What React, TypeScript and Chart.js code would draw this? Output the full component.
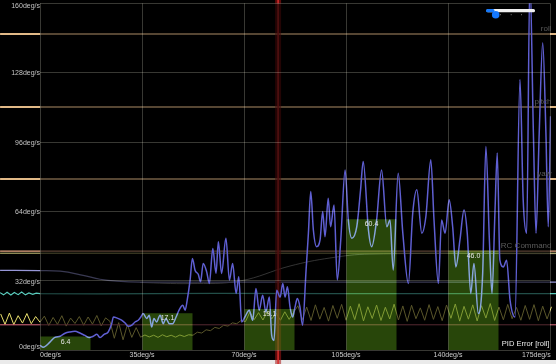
import { useEffect, useRef } from 'react';
import { Chart, registerables } from 'chart.js';

Chart.register(...registerables);

// ---- data ----
const binCenters = [8.75, 43.75, 78.75, 113.75, 148.75];
const binValues = [6.4, 17.1, 19.1, 60.4, 46.0];

const xTickLabels = ['0deg/s', '35deg/s', '70deg/s', '105deg/s', '140deg/s', '175deg/s'];
const yTickLabels = ['0deg/s', '32deg/s', '64deg/s', '96deg/s', '128deg/s', '160deg/s'];

const pidX = [
  0, 1.1, 3.4, 5.1, 6.9, 8.6, 10.3, 12.0, 13.7, 15.4, 16.9, 18.3, 19.5, 20.6, 22.0, 23.4,
  24.6, 25.2, 26.5, 28.0, 29.2, 30.3, 31.5, 32.6, 33.7, 34.6, 35.4, 36.6, 37.5, 38.3, 39.1,
  40.0, 41.2, 42.3, 43.2, 44.4, 45.5, 46.7, 47.8, 49.0, 49.8, 50.5, 51.5, 52.3, 53.2, 54.3,
  55.1, 56.0, 57.2, 58.1, 59.3, 60.4, 61.2, 62.3, 63.8, 65.0, 66.1, 67.3, 68.2, 69.2, 70.3,
  71.8, 73.0, 74.1, 75.2, 76.4, 77.5, 78.7, 79.5, 80.3, 81.2, 82.4, 83.3, 84.1, 84.9, 85.8,
  86.7, 87.5, 88.3, 89.2, 90.1, 91.3, 92.1, 92.9, 93.8, 94.9, 96.1, 97.0, 97.8, 98.9, 99.7,
  100.9, 102.0, 103.2, 104.7, 105.8, 107.0, 108.7, 110.0, 110.9, 112.7, 113.8, 115.5, 117.2,
  119.0, 120.1, 121.2, 122.9, 124.5, 126.4, 127.9, 129.3, 131.0, 132.4, 134.1, 135.2, 136.7,
  137.8, 139.0, 140.4, 141.6, 142.7, 144.1, 145.5, 146.6, 147.8, 148.9, 150.4, 151.9, 153.0,
  154.2, 155.1, 156.1, 156.9, 157.8, 159.0, 160.1, 161.3, 163.0, 164.7, 165.8, 167.0, 168.1,
  169.3, 170.2, 171.3, 172.5, 173.6, 174.4, 175.2,
];
const pidY = [
  2.3, 1.5, 3.8, 6.0, 6.5, 7.9, 8.5, 8.8, 8.0, 6.9, 5.9, 6.5, 7.4, 5.9, 7.4, 8.5,
  12.3, 15.4, 14.9, 13.9, 12.6, 11.1, 11.6, 13.1, 13.9, 15.4, 17.0, 14.7, 16.2, 10.8, 14.7,
  13.1, 16.2, 12.3, 14.7, 12.3, 12.3, 15.4, 18.8, 20.8, 18.5, 23.1, 32.4, 42.4, 37.0, 35.1,
  31.6, 40.1, 36.2, 30.8, 47.0, 35.5, 50.1, 35.5, 51.7, 32.4, 40.1, 26.2, 33.9, 13.1, 15.4,
  18.5, 13.9, 28.5, 18.5, 25.4, 17.7, 24.6, 6.9, 4.6, 27.7, 24.6, 30.8, 24.6, 29.3, 20.0,
  15.4, 20.0, 23.9, 20.0, 11.6, 37.0, 54.0, 73.2, 55.5, 47.8, 50.9, 64.0, 52.4, 70.1, 57.0,
  67.0, 32.4, 50.9, 83.2, 60.1, 51.7, 57.0, 74.0, 87.1, 55.5, 47.8, 60.1, 83.2,
  57.0, 60.1, 37.0, 81.7, 54.0, 30.8, 63.2, 74.0, 54.0, 61.6, 87.9, 60.1, 30.8,
  60.1, 54.0, 69.4, 57.0, 38.5, 50.9, 64.7, 54.0, 26.2, 40.1, 17.0, 35.5, 94.0,
  50.9, 26.2, 63.2, 91.0, 41.6, 38.5, 41.6, 23.1, 15.4, 124.9, 69.4, 54.0, 172.0,
  100.2, 54.0, 100.2, 141.8, 100.2, 57.0, 107.9,
];

// background traces (deg/s on the same axes)
const traceSpan = [-13.7, 177.1];
const traceNames = ['roll', 'pitch', 'yaw', 'RC Command'];
const traceLevels = [145.9, 112.2, 79.0, 45.8];
const rcSecondLevel = 44.8;
const pinkLevel = 11.8;

const curveAX = [-13.7, 0, 6.9, 14.8, 20.6, 26.4, 34.3, 177.1];
const curveAY = [36.9, 36.8, 36.5, 34.6, 32.8, 31.9, 31.5, 31.5];
const curveBX = [34.3, 51.5, 68.6, 85.8, 99.5, 113.2, 177.1];
const curveBY = [31.3, 30.8, 32.0, 38.9, 42.6, 44.4, 44.6];

const tealX = [-13.7, -12.5, -11.3, -10, -8.8, -7.5, -6.3, -5, -3.8, -2.5, -1.3, 0, 20, 60, 100, 140, 177.1];
const tealY = [26.6, 25.6, 26.8, 25.5, 26.7, 25.7, 26.9, 25.6, 26.5, 25.8, 26.4, 26.2, 26.1, 26.3, 26.2, 26.2, 26.2];

const noiseX = [
  -13.5, -12, -10.5, -9, -7.5, -6, -4.5, -3, -1.5, 0,
  1.5, 3, 4.5, 6, 7.5, 9, 10.5, 12, 13.5, 15, 16.5, 18, 19.5, 21, 22.5,
  24, 25.5, 27, 28.5, 30, 31.5, 33,
  34.5, 36, 37.5, 39, 40.5, 42, 43.5, 45, 46.5, 48, 49.5, 51, 52.5, 54, 55.5, 57, 58.5, 60, 61.5, 63, 64.5, 66, 67.5, 69, 70.5,
  72, 73.5, 75, 76.5, 78, 79.5, 81, 82.5, 84, 85.5, 87,
  88.5, 90, 91.5, 93, 94.5, 96, 97.5, 99, 100.5, 102, 103.5, 105, 106.5, 108, 109.5, 111, 112.5, 114, 115.5, 117,
  118.5, 120, 121.5, 123, 124.5, 126, 127.5, 129, 130.5, 132, 133.5, 135, 136.5, 138, 139.5, 141, 142.5, 144, 145.5, 147,
  148.5, 150, 151.5, 153, 154.5, 156, 157.5, 159, 160.5, 162, 163.5, 165, 166.5, 168, 169.5, 171, 172.5, 174, 175.5,
];
const noiseY = [
  16.8, 12.0, 17.2, 11.9, 16.0, 12.6, 17.0, 12.3, 15.6, 13.0,
  15.8, 11.5, 15.2, 12.0, 16.0, 11.2, 14.9, 12.4, 15.6, 11.6, 15.4, 12.1, 16.1, 11.3, 15.0,
  13.4, 5.6, 12.8, 4.9, 11.9, 6.0, 10.5,
  6.1, 7.1, 6.2, 7.0, 6.0, 7.2, 6.3, 7.0, 6.1, 7.1, 6.4, 7.2, 7.0, 8.4, 8.0, 9.5, 9.1, 10.6, 10.1, 11.6, 11.2, 12.7, 12.3, 13.8, 13.3,
  17.6, 14.2, 17.4, 14.0, 17.9, 14.5, 17.2, 13.9, 17.8, 14.3, 17.5,
  20.6, 14.1, 20.0, 13.8, 21.0, 14.4, 19.8, 13.5, 20.7, 14.8, 21.2, 13.9, 20.4, 14.2, 21.5, 13.6, 20.1, 14.7, 20.9, 13.8,
  19.9, 14.5, 21.3, 14.0, 20.5, 13.4, 20.8, 14.6, 19.6, 13.9, 21.1, 14.3, 20.2, 13.7, 20.9, 14.8, 21.4, 13.5, 20.3, 14.4,
  21.0, 13.6, 20.6, 14.9, 21.6, 13.8, 20.0, 14.1, 21.2, 14.6, 19.8, 13.9, 20.7, 14.3, 21.1, 13.7, 20.4, 14.5, 20.1,
];

const cursorDeg = 81.7;
const chartLabel = 'PID Error [roll]';

const FONT = '"Liberation Sans", Arial, sans-serif';

const pts = (xs: number[], ys: number[]) => xs.map((x, i) => ({ x, y: ys[i] }));
const flat = (level: number) => traceSpan.map((x) => ({ x, y: level }));

const traceLine = (data: any[], color: string, width: number, extra: any = {}) => ({
  type: 'line',
  data,
  borderColor: color,
  borderWidth: width,
  pointRadius: 0,
  pointHoverRadius: 0,
  fill: false,
  clip: false,
  order: 10,
  tension: 0,
  ...extra,
});

const decorPlugin = {
  id: 'decor',
  beforeDraw(chart: any) {
    const { ctx, width, height } = chart;
    ctx.save();
    ctx.fillStyle = '#000';
    ctx.fillRect(0, 0, width, height);
    ctx.fillStyle = 'rgb(234,234,234)';
    ctx.fillRect(0, height - 4, width, 4);
    ctx.restore();
  },
  beforeDatasetDraw(chart: any, args: any) {
    const ds = chart.data.datasets[args.index];
    const { ctx, chartArea } = chart;
    if (ds.id === 'pid') {
      const x = chart.scales.x.getPixelForValue(cursorDeg);
      ctx.save();
      ctx.fillStyle = 'rgba(170,20,20,0.55)';
      ctx.fillRect(x - 3, 0, 6, chart.height);
      ctx.fillStyle = 'rgb(215,45,45)';
      ctx.fillRect(x - 0.75, 0, 1.5, chart.height);
      ctx.fillStyle = 'rgba(0,0,0,0.62)';
      ctx.fillRect(chartArea.left, chartArea.top, chartArea.right - chartArea.left, chartArea.bottom - chartArea.top);
      ctx.restore();
    }
    if (ds.type === 'bar') {
      ctx.save();
      ctx.globalCompositeOperation = 'lighter';
    }
  },
  afterDatasetDraw(chart: any, args: any) {
    const ds = chart.data.datasets[args.index];
    if (ds.type === 'bar') chart.ctx.restore();
  },
  afterDraw(chart: any) {
    const { ctx, chartArea } = chart;
    const xs = chart.scales.x;
    const ys = chart.scales.y;
    ctx.save();
    // y labels
    ctx.font = `7px ${FONT}`;
    ctx.fillStyle = 'rgb(195,195,195)';
    ctx.textAlign = 'right';
    ctx.textBaseline = 'alphabetic';
    ys.ticks.forEach((t: any) => {
      const py = ys.getPixelForValue(t.value);
      const by = Math.min(Math.max(py + 2.6, chartArea.top + 5), chartArea.bottom - 1);
      ctx.fillText(t.label, chartArea.left, by);
    });
    // x labels
    ctx.fillStyle = 'rgb(205,205,205)';
    const n = xs.ticks.length;
    xs.ticks.forEach((t: any, i: number) => {
      const px = xs.getPixelForValue(t.value);
      ctx.textAlign = i === 0 ? 'left' : i === n - 1 ? 'right' : 'center';
      ctx.fillText(t.label, i === n - 1 ? px + 0.7 : px, chartArea.bottom + 6.2);
    });
    // bar value labels
    const barIdx = chart.data.datasets.findIndex((d: any) => d.type === 'bar');
    const meta = chart.getDatasetMeta(barIdx);
    ctx.fillStyle = 'rgb(230,230,230)';
    ctx.textAlign = 'center';
    meta.data.forEach((el: any, i: number) => {
      ctx.fillText(binValues[i].toFixed(1), el.x, el.y + 7);
    });
    // trace labels
    ctx.font = `8px ${FONT}`;
    ctx.fillStyle = 'rgb(92,92,92)';
    ctx.textAlign = 'right';
    traceNames.forEach((name, i) => {
      ctx.fillText(name, chartArea.right + 1.5, ys.getPixelForValue(traceLevels[i]) - 3.3);
    });
    // chart label
    ctx.font = `7.5px ${FONT}`;
    ctx.fillStyle = 'rgb(235,235,235)';
    ctx.fillText(chartLabel, chartArea.right - 0.7, chartArea.bottom - 4);
    // zoom slider
    ctx.fillStyle = 'rgb(240,240,240)';
    ctx.beginPath();
    ctx.roundRect(486.5, 9, 48.5, 3.3, 1.5);
    ctx.fill();
    ctx.fillStyle = 'rgb(20,120,250)';
    ctx.beginPath();
    ctx.roundRect(486, 9, 8.5, 3.3, 1.5);
    ctx.fill();
    ctx.fillStyle = 'rgb(120,120,120)';
    [500, 510.7, 521].forEach((x) => ctx.fillRect(x, 14.2, 1, 1));
    ctx.fillStyle = 'rgb(20,120,255)';
    ctx.beginPath();
    ctx.arc(495.7, 14.7, 3.8, 0, Math.PI * 2);
    ctx.fill();
    ctx.restore();
  },
};

export default function App() {
  const ref = useRef<HTMLCanvasElement>(null);
  useEffect(() => {
    const canvas = ref.current as HTMLCanvasElement;
    const datasets: any[] = [
      traceLine(flat(traceLevels[0]), 'rgb(225,185,135)', 2),
      traceLine(flat(traceLevels[1]), 'rgb(225,185,135)', 2),
      traceLine(flat(traceLevels[2]), 'rgb(225,185,135)', 2),
      traceLine(flat(traceLevels[3]), 'rgb(230,165,130)', 1.2),
      traceLine(flat(rcSecondLevel), 'rgb(200,195,120)', 1),
      traceLine(pts(curveAX, curveAY), 'rgb(150,150,215)', 1.2, { tension: 0.4 }),
      traceLine(pts(curveBX, curveBY), 'rgba(170,170,170,0.8)', 1, { tension: 0.4 }),
      traceLine(pts(tealX, tealY), 'rgb(90,205,190)', 1.2),
      traceLine(flat(pinkLevel), 'rgb(225,110,130)', 1),
      traceLine(pts(noiseX, noiseY), 'rgb(235,225,110)', 1),
      {
        id: 'pid',
        type: 'line',
        data: pts(pidX, pidY),
        borderColor: 'rgb(95,95,210)',
        borderWidth: 1.5,
        pointRadius: 0,
        pointHoverRadius: 0,
        fill: false,
        cubicInterpolationMode: 'monotone',
        order: 2,
      },
      {
        type: 'bar',
        data: pts(binCenters, binValues),
        backgroundColor: 'rgb(40,70,10)',
        borderWidth: 0,
        categoryPercentage: 1,
        barPercentage: 0.49,
        order: 1,
      },
    ];
    const chart = new Chart(canvas, {
      type: 'line',
      data: { datasets },
      options: {
        animation: false,
        responsive: false,
        events: [],
        layout: { padding: { left: 40, right: 6, top: 3.3, bottom: 13.6 } },
        plugins: { legend: { display: false }, tooltip: { enabled: false }, title: { display: false } },
        scales: {
          x: {
            type: 'linear',
            offset: false,
            afterDataLimits: (s: any) => {
              s.min = 0;
              s.max = 175;
            },
            afterFit: (s: any) => {
              s.height = 0;
            },
            ticks: {
              display: false,
              stepSize: 35,
              callback: (_v: any, i: number) => xTickLabels[i],
            },
            grid: { z: 1, offset: false, drawTicks: false, color: 'rgba(255,255,230,0.22)', lineWidth: 1 },
            border: { display: false },
          },
          y: {
            type: 'linear',
            min: 0,
            max: 160,
            afterFit: (s: any) => {
              s.width = 0;
            },
            ticks: {
              display: false,
              stepSize: 32,
              callback: (_v: any, i: number) => yTickLabels[i],
            },
            grid: { z: 1, drawTicks: false, color: 'rgba(255,255,230,0.22)', lineWidth: 1 },
            border: { display: false },
          },
        },
      } as any,
      plugins: [decorPlugin as any],
    } as any);
    return () => chart.destroy();
  }, []);
  return (
    <div style={{ position: 'absolute', left: 0, top: 0, width: 556, height: 364 }}>
      <canvas ref={ref} width={556} height={364} style={{ display: 'block', width: 556, height: 364 }} />
    </div>
  );
}
